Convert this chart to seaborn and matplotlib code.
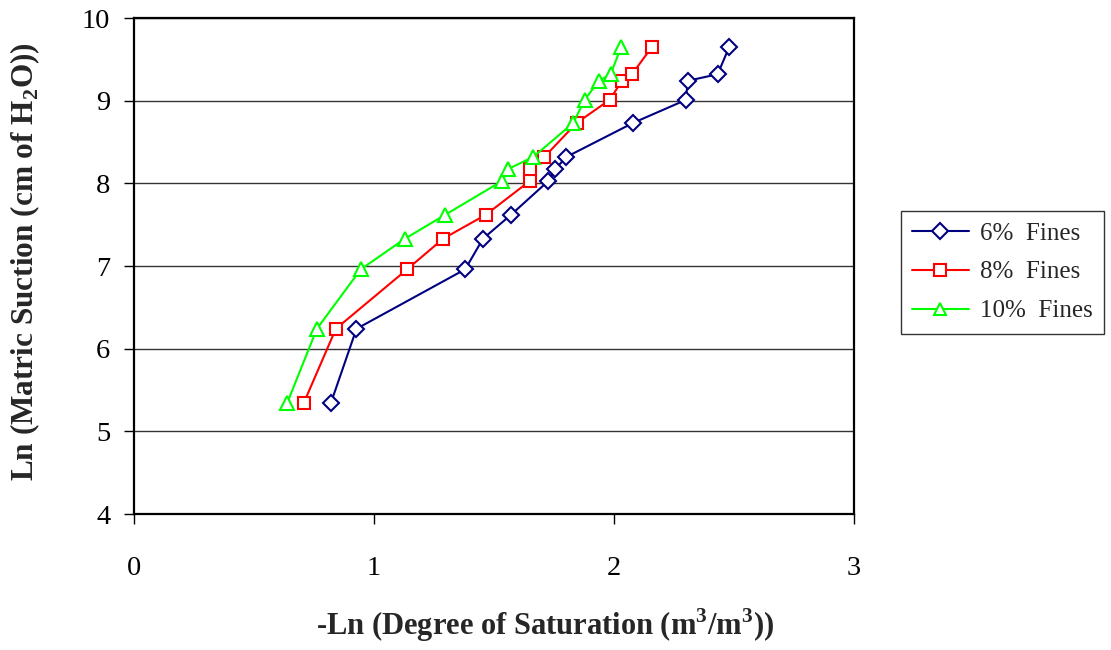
import matplotlib
matplotlib.use("Agg")
import matplotlib.pyplot as plt
import seaborn as sns
import pandas as pd

sns.set_theme(style="white")
plt.rcParams['font.family'] = ['Liberation Serif', 'DejaVu Serif']
plt.rcParams['mathtext.fontset'] = 'custom'
plt.rcParams['mathtext.rm'] = 'Liberation Serif'
plt.rcParams['mathtext.bf'] = 'Liberation Serif:bold'

series_names = ["6%  Fines", "8%  Fines", "10%  Fines"]
suction = [5.34, 6.24, 6.96, 7.33, 7.62, 8.03, 8.17, 8.32, 8.73, 9.01, 9.24, 9.32, 9.65]
x_6 = [0.820, 0.927, 1.380, 1.454, 1.571, 1.727, 1.754, 1.802, 2.079, 2.300, 2.307, 2.432, 2.480]
x_8 = [0.707, 0.841, 1.138, 1.288, 1.466, 1.650, 1.650, 1.710, 1.844, 1.982, 2.033, 2.075, 2.158]
x_10 = [0.638, 0.762, 0.945, 1.129, 1.297, 1.535, 1.557, 1.664, 1.830, 1.878, 1.937, 1.986, 2.030]
x_ticks = [0, 1, 2, 3]
y_ticks = [4, 5, 6, 7, 8, 9, 10]

colors = ["#000080", "#FF0000", "#00FF00"]
markers = ["D", "s", "^"]
msizes = [8.5, 8, 9.5]

fig = plt.figure(figsize=(11.11, 6.5), dpi=100)
ax = fig.add_axes([134/1111, 1 - 514/650, (854-134)/1111, (514-18)/650])

for name, xs, c, m, ms in zip(series_names, [x_6, x_8, x_10], colors, markers, msizes):
    df = pd.DataFrame({"x": xs, "y": suction})
    sns.lineplot(data=df, x="x", y="y", sort=False, estimator=None, ax=ax,
                 color=c, marker=m, markersize=ms, markerfacecolor="white",
                 markeredgecolor=c, markeredgewidth=1.5, linewidth=1.5, label=name)

ax.set_xlim(0, 3)
ax.set_ylim(4, 10)
ax.set_xticks(x_ticks)
ax.set_yticks(y_ticks)
ax.set_xticklabels([str(t) for t in x_ticks])
ax.set_yticklabels([str(t) for t in y_ticks])
ax.tick_params(axis="both", labelsize=20.5, colors="black", direction="out",
               length=7, width=1, bottom=True, left=True)
ax.tick_params(axis="x", pad=23)
ax.tick_params(axis="y", pad=10)
ax.yaxis.grid(True, color="#333333", linewidth=1)
ax.xaxis.grid(False)
for s in ax.spines.values():
    s.set_visible(True)
    s.set_color("black")
    s.set_linewidth(1.6)

ax.set_xlabel(r"-Ln (Degree of Saturation (m$^{\mathbf{3}}$/m$^{\mathbf{3}}$))",
              fontsize=22, fontweight="bold")
ax.xaxis.set_label_coords((545 - 134) / 720, -(625 - 514) / 496)
ax.xaxis.label.set_verticalalignment("center")
ax.set_ylabel(r"Ln (Matric Suction (cm of H$_{\mathbf{2}}$O))",
              fontsize=22.5, fontweight="bold")
ax.yaxis.set_label_coords(-(134 - 25) / 720, (514 - 262) / 496)
ax.yaxis.label.set_verticalalignment("center")

leg = ax.legend(loc="upper left", bbox_to_anchor=(901/1111, 1 - 211/650),
                bbox_transform=fig.transFigure, frameon=True, fancybox=False,
                fontsize=18, handlelength=2.25, borderpad=0.45, labelspacing=0.65,
                handletextpad=0.45, borderaxespad=0)
leg.get_frame().set_edgecolor("black")
leg.get_frame().set_linewidth(1)
for h in leg.get_lines():
    h.set_markersize(8)

fig.savefig("out.png", dpi=100)
